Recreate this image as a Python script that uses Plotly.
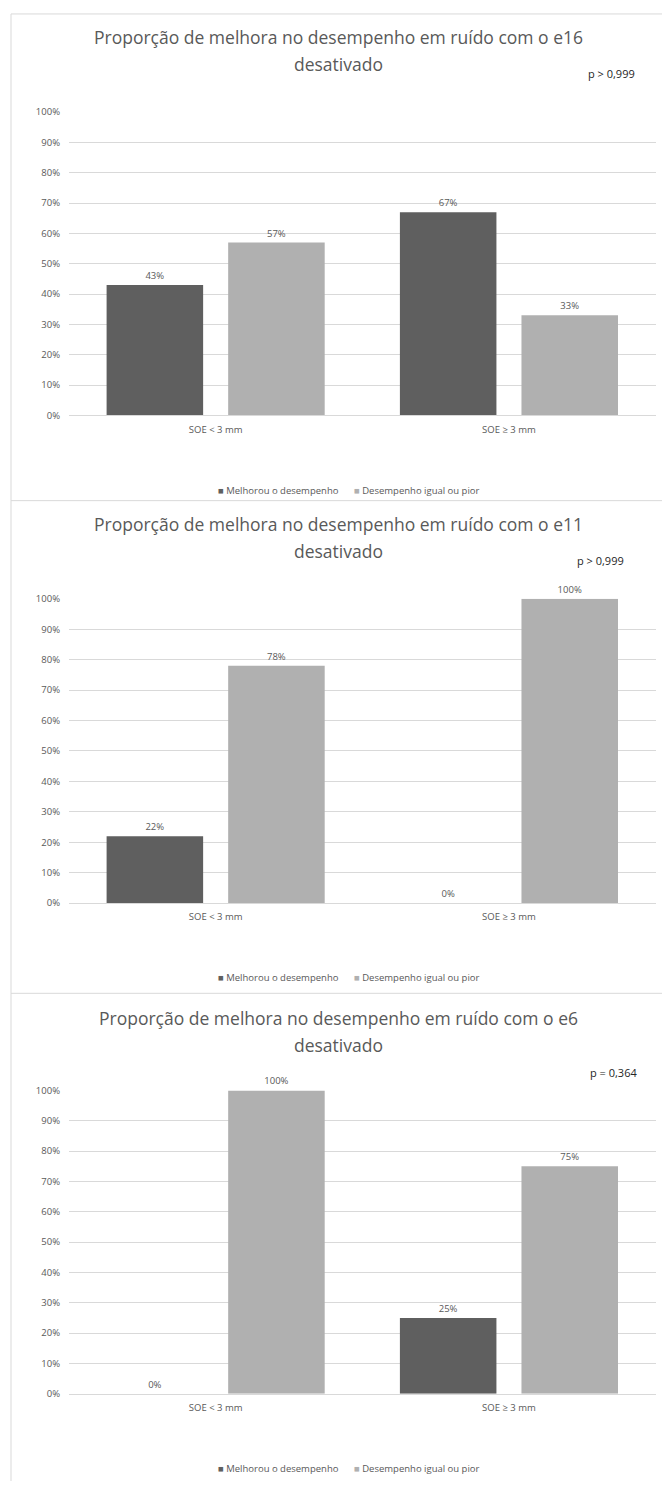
import plotly.graph_objects as go

# ---- data -------------------------------------------------------------
categories = ["SOE < 3 mm", "SOE ≥ 3 mm"]
series_names = ["Melhorou o desempenho", "Desempenho igual ou pior"]

electrodes = ["e16", "e11", "e6"]
p_values = ["p > 0,999", "p > 0,999", "p = 0,364"]

# percent of patients per category (improved / same or worse)
e16_melhorou = [43, 67]
e16_igual_pior = [57, 33]
e11_melhorou = [22, 0]
e11_igual_pior = [78, 100]
e6_melhorou = [0, 25]
e6_igual_pior = [100, 75]

y_tick_values = [0, 10, 20, 30, 40, 50, 60, 70, 80, 90, 100]
y_tick_labels = [f"{v}%" for v in y_tick_values]

panels = [
    (e16_melhorou, e16_igual_pior),
    (e11_melhorou, e11_igual_pior),
    (e6_melhorou, e6_igual_pior),
]

# ---- styling ----------------------------------------------------------
W, H = 662, 1487
FONT = "Open Sans"
DARK = "#5f5f5f"
LIGHT = "#b0b0b0"
GRID = "#d9d9d9"
TEXT = "#595959"

# pixel layout of each panel
panel_top = [7, 498, 995]
plot_top = [106, 597, 1093]
plot_bottom = [412, 904, 1399]
title_y1 = [30, 522, 1020]
title_y2 = [57, 549, 1047]
p_xy = [(611, 67), (600, 558), (613, 1075)]
legend_y = [488, 979, 1474]
plot_left, plot_right = 69, 655.6


def px(x):
    return x / W


def py(y):
    return 1 - y / H


fig = go.Figure()
annotations = []
shapes = []

for i, (melhorou, igual) in enumerate(panels):
    n = "" if i == 0 else str(i + 1)
    for vals, name, color in ((melhorou, series_names[0], DARK),
                              (igual, series_names[1], LIGHT)):
        fig.add_trace(go.Bar(
            x=categories, y=vals, name=name,
            marker=dict(color=color, line=dict(width=0)),
            text=[f"{v}%" for v in vals], textposition="outside",
            textfont=dict(family=FONT, size=9.5, color=TEXT),
            cliponaxis=False, showlegend=False, hoverinfo="x+y+name",
            xaxis="x" + n, yaxis="y" + n,
        ))

    fig.layout["xaxis" + n] = dict(
        domain=[px(plot_left), px(plot_right)], anchor="y" + n,
        showline=True, linecolor=GRID, linewidth=1,
        showgrid=False, ticks="", ticklabelstandoff=5,
        tickfont=dict(family=FONT, size=9.5, color=TEXT),
        fixedrange=True,
    )
    fig.layout["yaxis" + n] = dict(
        domain=[py(plot_bottom[i]), py(plot_top[i])], anchor="x" + n,
        range=[0, 100.01], tickvals=y_tick_values, ticktext=y_tick_labels,
        showgrid=True, gridcolor=GRID, gridwidth=1, zeroline=False,
        showline=False, ticks="", ticklabelstandoff=8,
        tickfont=dict(family=FONT, size=9.5, color=TEXT),
        fixedrange=True,
    )

    title_font = dict(family=FONT, size=17.5, color=TEXT)
    annotations += [
        dict(text=f"Proporção de melhora no desempenho em ruído com o {electrodes[i]}",
             x=px(338), y=py(title_y1[i]), xref="paper", yref="paper",
             xanchor="center", yanchor="middle", showarrow=False, font=title_font),
        dict(text="desativado",
             x=px(338), y=py(title_y2[i]), xref="paper", yref="paper",
             xanchor="center", yanchor="middle", showarrow=False, font=title_font),
        dict(text=p_values[i],
             x=px(p_xy[i][0]), y=py(p_xy[i][1]), xref="paper", yref="paper",
             xanchor="center", yanchor="middle", showarrow=False,
             font=dict(family=FONT, size=11, color="#262626")),
    ]

    # legend entries
    for lx, name, color in ((216, series_names[0], DARK), (352, series_names[1], LIGHT)):
        annotations.append(dict(
            text=f'<span style="color:{color}">■</span> {name}',
            x=px(lx), y=py(legend_y[i]), xref="paper", yref="paper",
            xanchor="left", yanchor="middle", showarrow=False,
            font=dict(family=FONT, size=9.5, color=TEXT),
        ))

    # chart-area frame
    shapes.append(dict(type="line", xref="paper", yref="paper",
                       x0=px(11), x1=1, y0=py(panel_top[i]), y1=py(panel_top[i]),
                       line=dict(color=GRID, width=1)))

shapes.append(dict(type="line", xref="paper", yref="paper",
                   x0=px(11), x1=px(11), y0=py(panel_top[0]), y1=0,
                   line=dict(color=GRID, width=1)))

fig.update_layout(
    width=W, height=H,
    margin=dict(l=0, r=0, t=0, b=0),
    paper_bgcolor="white", plot_bgcolor="white",
    barmode="group", bargap=0.171, bargroupgap=0.206,
    annotations=annotations, shapes=shapes,
    showlegend=False,
)

fig.write_html("out.html")
